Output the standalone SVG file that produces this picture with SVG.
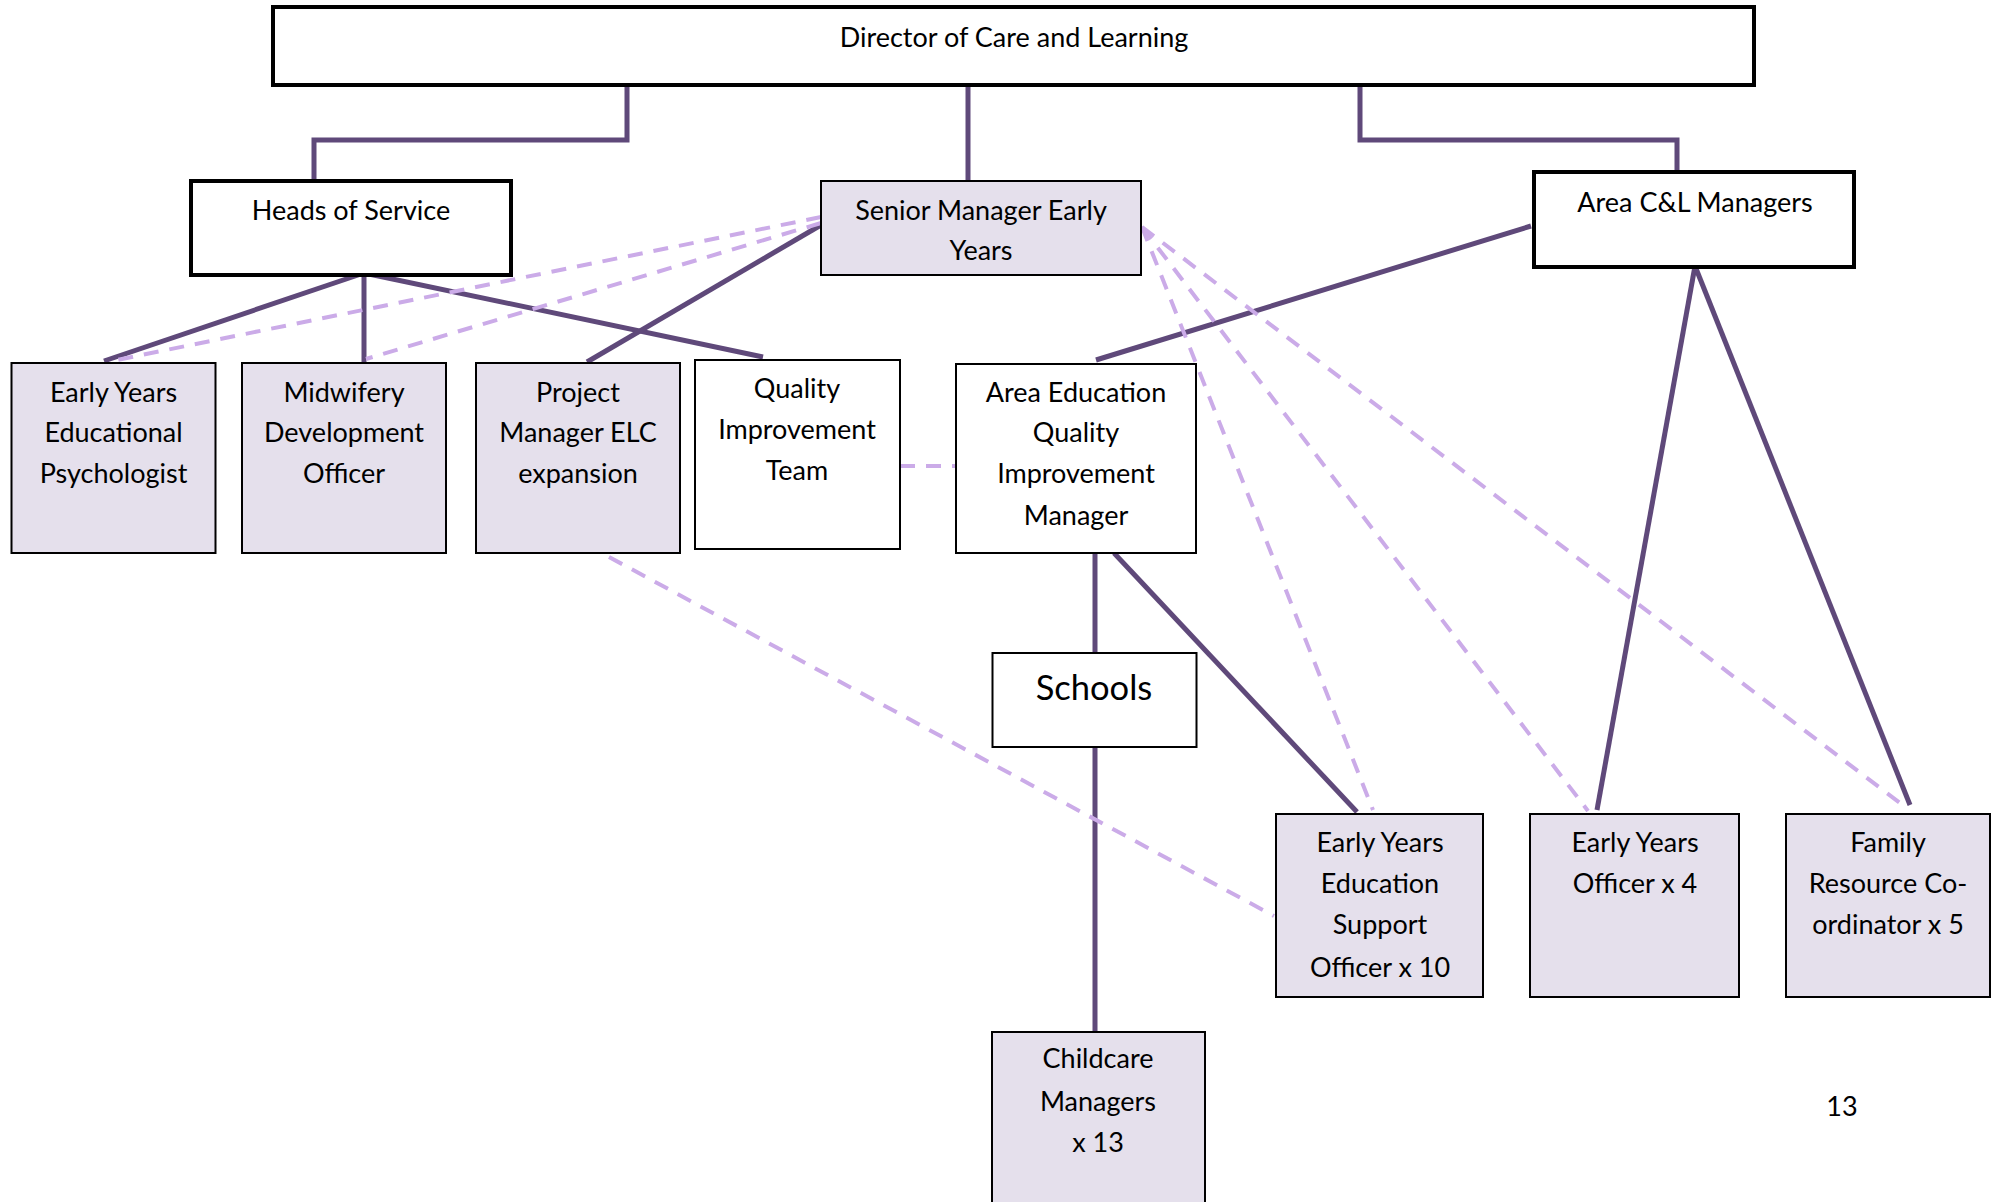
<svg xmlns="http://www.w3.org/2000/svg" width="1999" height="1202" viewBox="0 0 1999 1202">
<style>
.box{fill:#ffffff;stroke:#000000;stroke-width:2}
.thick{stroke-width:4}
.lav{fill:#E5E0EC}
.t{font-family:Lato,"Liberation Sans",sans-serif;font-size:27px;fill:#000000;text-anchor:middle}
.big{font-size:34.5px}
.solid{stroke:#5F497A;stroke-width:5;fill:none}
.dash{stroke:#CBABE8;stroke-width:4;fill:none;stroke-dasharray:15 11}
</style>
<rect width="1999" height="1202" fill="#ffffff"/>
<g id="connectors">
<polyline class="solid" points="627,85 627,140 314,140 314,181"/>
<line class="solid" x1="968" y1="85" x2="968" y2="183"/>
<polyline class="solid" points="1360,85 1360,140 1677,140 1677,182"/>
<line class="solid" x1="364" y1="273" x2="104" y2="361"/>
<line class="solid" x1="364" y1="273" x2="364" y2="365"/>
<line class="solid" x1="364" y1="273" x2="763" y2="357"/>
<line class="solid" x1="821" y1="225" x2="587" y2="362"/>
<line class="solid" x1="1531" y1="226" x2="1096" y2="360"/>
<line class="solid" x1="1695" y1="266" x2="1597" y2="810"/>
<line class="solid" x1="1695" y1="266" x2="1910" y2="805"/>
<line class="solid" x1="1095" y1="553" x2="1095" y2="653"/>
<line class="solid" x1="1114" y1="553" x2="1357" y2="812"/>
<line class="solid" x1="1095" y1="747" x2="1095" y2="1032"/>
<line class="dash" x1="821" y1="217" x2="112" y2="361"/>
<line class="dash" x1="821" y1="223" x2="366" y2="359"/>
<line class="dash" x1="1142" y1="227" x2="1373" y2="810"/>
<line class="dash" x1="1142" y1="227" x2="1588" y2="811"/>
<line class="dash" x1="1142" y1="227" x2="1900" y2="803"/>
<line class="dash" x1="609" y1="557" x2="1274" y2="916"/>
<line class="dash" x1="900" y1="466" x2="956" y2="466"/>
</g>
<g id="director">
<rect class="box thick" x="273" y="7" width="1481" height="78"/>
<text class="t" x="1014" y="47">Director of Care and Learning</text>
</g>
<g id="heads-of-service">
<rect class="box thick" x="191" y="181" width="320" height="94"/>
<text class="t" x="351" y="220">Heads of Service</text>
</g>
<g id="senior-manager">
<rect class="box lav" x="821" y="181" width="320" height="94"/>
<text class="t" x="981" y="220">Senior Manager Early</text>
<text class="t" x="981" y="260">Years</text>
</g>
<g id="area-cl-managers">
<rect class="box thick" x="1534" y="172" width="320" height="95"/>
<text class="t" x="1695" y="212">Area C&amp;L Managers</text>
</g>
<g id="ey-psychologist">
<rect class="box lav" x="11.5" y="363" width="204" height="190"/>
<text class="t" x="113.5" y="402">Early Years</text>
<text class="t" x="113.5" y="442">Educational</text>
<text class="t" x="113.5" y="483">Psychologist</text>
</g>
<g id="midwifery">
<rect class="box lav" x="242" y="363" width="204" height="190"/>
<text class="t" x="344" y="402">Midwifery</text>
<text class="t" x="344" y="442">Development</text>
<text class="t" x="344" y="483">Officer</text>
</g>
<g id="project-manager">
<rect class="box lav" x="476" y="363" width="204" height="190"/>
<text class="t" x="578" y="402">Project</text>
<text class="t" x="578" y="442">Manager ELC</text>
<text class="t" x="578" y="483">expansion</text>
</g>
<g id="qit">
<rect class="box" x="695" y="360" width="205" height="189"/>
<text class="t" x="797" y="398">Quality</text>
<text class="t" x="797" y="439">Improvement</text>
<text class="t" x="797" y="480">Team</text>
</g>
<g id="aeqim">
<rect class="box" x="956" y="364" width="240" height="189"/>
<text class="t" x="1076" y="402">Area Education</text>
<text class="t" x="1076" y="442">Quality</text>
<text class="t" x="1076" y="483">Improvement</text>
<text class="t" x="1076" y="525">Manager</text>
</g>
<g id="schools">
<rect class="box" x="992.5" y="653" width="204" height="94"/>
<text class="t big" x="1094" y="700">Schools</text>
</g>
<g id="eyeso">
<rect class="box lav" x="1276" y="814" width="207" height="183"/>
<text class="t" x="1380" y="852">Early Years</text>
<text class="t" x="1380" y="893">Education</text>
<text class="t" x="1380" y="934">Support</text>
<text class="t" x="1380" y="977">Officer x 10</text>
</g>
<g id="eyo">
<rect class="box lav" x="1530" y="814" width="209" height="183"/>
<text class="t" x="1635" y="852">Early Years</text>
<text class="t" x="1635" y="893">Officer x 4</text>
</g>
<g id="frc">
<rect class="box lav" x="1786" y="814" width="204" height="183"/>
<text class="t" x="1888" y="852">Family</text>
<text class="t" x="1888" y="893">Resource Co-</text>
<text class="t" x="1888" y="934">ordinator x 5</text>
</g>
<g id="childcare">
<rect class="box lav" x="992" y="1032" width="213" height="190"/>
<text class="t" x="1098" y="1068">Childcare</text>
<text class="t" x="1098" y="1111">Managers</text>
<text class="t" x="1098" y="1152">x 13</text>
</g>
<text class="t" x="1842" y="1116">13</text>
</svg>
